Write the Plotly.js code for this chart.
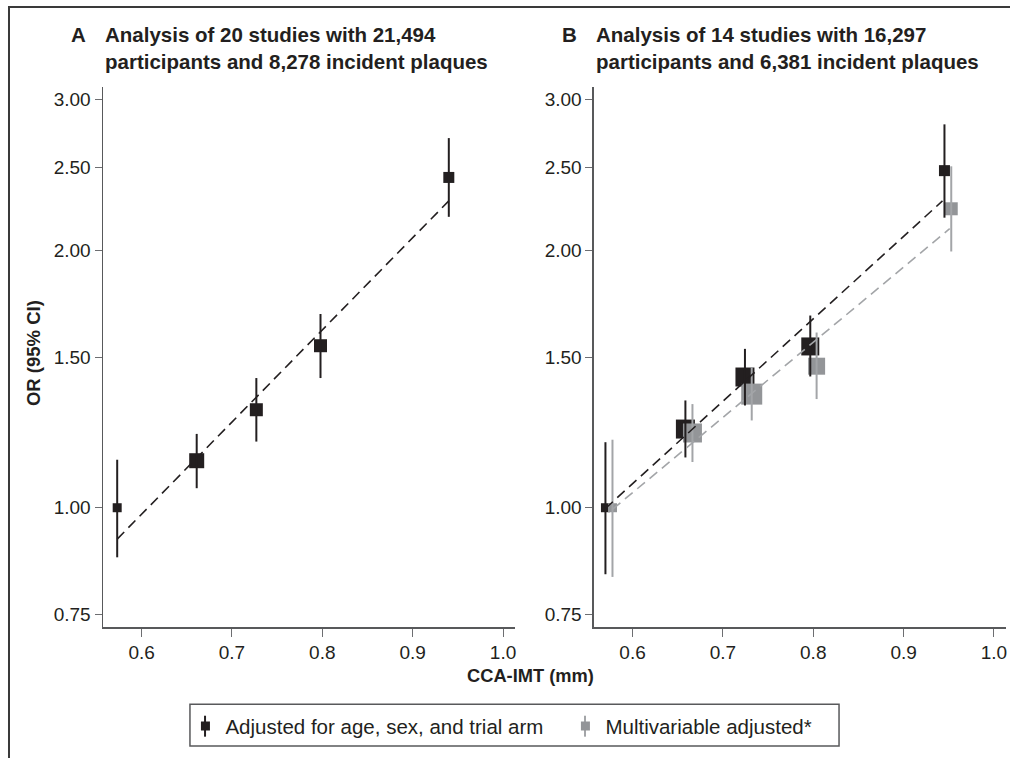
<!DOCTYPE html>
<html><head><meta charset="utf-8">
<script src="https://cdn.plot.ly/plotly-3.0.1.min.js"></script>
<style>html,body{margin:0;padding:0;background:#fff}#chart{width:1010px;height:758px}</style>
</head><body><div id="chart"></div>
<script>
// ---- data ----
const tickValsY = [0.75, 1, 1.5, 2, 2.5, 3];
const tickTextY = ['0.75', '1.00', '1.50', '2.00', '2.50', '3.00'];
const tickValsX = [0.6, 0.7, 0.8, 0.9, 1.0];
const tickTextX = ['0.6', '0.7', '0.8', '0.9', '1.0'];

// Panel A: adjusted for age, sex and trial arm
const imtA = [0.573, 0.661, 0.727, 0.798, 0.940];
const orA  = [1.00, 1.135, 1.302, 1.547, 2.434];
const loA  = [0.875, 1.054, 1.195, 1.418, 2.189];
const hiA  = [1.138, 1.220, 1.418, 1.685, 2.706];
const fitImtA = [0.573, 0.940];
const fitOrA  = [0.919, 2.285];

// Panel B: adjusted for age, sex and trial arm
const imtB1 = [0.570, 0.6585, 0.7244, 0.7967, 0.9452];
const orB1  = [1.00, 1.236, 1.422, 1.544, 2.479];
const loB1  = [0.836, 1.145, 1.317, 1.424, 2.184];
const hiB1  = [1.193, 1.335, 1.534, 1.678, 2.808];
const fitImtB1 = [0.570, 0.943];
const fitOrB1  = [0.998, 2.285];

// Panel B: multivariable adjusted
const imtB2 = [0.5778, 0.6663, 0.7319, 0.8037, 0.9527];
const orB2  = [1.00, 1.223, 1.358, 1.464, 2.237];
const loB2  = [0.830, 1.131, 1.265, 1.340, 1.994];
const hiB2  = [1.201, 1.322, 1.460, 1.603, 2.508];
const fitImtB2 = [0.578, 0.951];
const fitOrB2  = [0.996, 2.120];

const legendNames = ['Adjusted for age, sex, and trial arm', 'Multivariable adjusted*'];
const titleA = ['A', 'Analysis of 20 studies with 21,494', 'participants and 8,278 incident plaques'];
const titleB = ['B', 'Analysis of 14 studies with 16,297', 'participants and 6,381 incident plaques'];

// ---- styles ----
const sizeA  = [9, 15, 13, 13, 11];
const sizeB1 = [9, 19, 19, 18, 11];
const sizeB2 = [9, 19, 21, 17, 13];
const BLACK = '#231f20';
const GRAY = '#939598';
const GRAYLINE = '#a3a5a8';
const FONT = 'Liberation Sans, Arial, Helvetica, sans-serif';

function fit(x, y, color, xa, ya) {
  return {x: x, y: y, xaxis: xa, yaxis: ya, mode: 'lines', showlegend: false, hoverinfo: 'skip',
    line: {color: color, width: 1.6, dash: '10px,6px'}};
}
function pts(x, y, size, color, xa, ya) {
  return {x: x, y: y, xaxis: xa, yaxis: ya, mode: 'markers', showlegend: false,
    marker: {symbol: 'square', size: size, color: color, opacity: 1, line: {width: 0}}};
}
function cis(x, y, lo, hi, color, xa, ya) {
  return {x: x, y: y, xaxis: xa, yaxis: ya, mode: 'markers', showlegend: false, hoverinfo: 'skip',
    marker: {size: 1, opacity: 0},
    error_y: {type: 'data', symmetric: false,
      array: hi.map((h, i) => h - y[i]),
      arrayminus: lo.map((l, i) => y[i] - l),
      color: color, thickness: 2, width: 0}};
}

const traces = [
  pts(imtA, orA, sizeA, BLACK, 'x', 'y'),
  cis(imtA, orA, loA, hiA, BLACK, 'x', 'y'),
  fit(fitImtA, fitOrA, BLACK, 'x', 'y'),
  pts(imtB1, orB1, sizeB1, BLACK, 'x2', 'y2'),
  pts(imtB2, orB2, sizeB2, GRAY, 'x2', 'y2'),
  cis(imtB1, orB1, loB1, hiB1, BLACK, 'x2', 'y2'),
  cis(imtB2, orB2, loB2, hiB2, GRAYLINE, 'x2', 'y2'),
  fit(fitImtB1, fitOrB1, BLACK, 'x2', 'y2'),
  fit(fitImtB2, fitOrB2, GRAYLINE, 'x2', 'y2'),
  {x: [null], y: [null], mode: 'markers', name: legendNames[0], showlegend: true, legend: 'legend',
   marker: {symbol: 'square', size: 9, color: BLACK, opacity: 1}},
  {x: [null], y: [null], mode: 'markers', name: legendNames[1], showlegend: true, legend: 'legend2',
   marker: {symbol: 'square', size: 9, color: GRAY, opacity: 1}}
];

const xCommon = {range: [0.5573, 1.0133], tickvals: tickValsX, ticktext: tickTextX,
  ticks: 'outside', ticklen: 8, tickwidth: 1, tickcolor: '#6d6e71',
  showline: true, linecolor: '#58595b', linewidth: 1.5, showgrid: false, zeroline: false,
  tickfont: {family: FONT, size: 19, color: BLACK}, fixedrange: true};
const yCommon = {type: 'log', range: [-0.1395, 0.4921], tickvals: tickValsY, ticktext: tickTextY,
  ticks: 'outside', ticklen: 7, tickwidth: 1, tickcolor: '#6d6e71',
  showline: true, linecolor: '#58595b', linewidth: 1.5, showgrid: false, zeroline: false,
  tickfont: {family: FONT, size: 19, color: BLACK}, fixedrange: true};

function ann(text, x, y, opts) {
  return Object.assign({text: text, x: x, y: y, xref: 'paper', yref: 'paper', showarrow: false,
    font: {family: FONT, size: 20.5, color: BLACK, weight: 'bold'}}, opts || {});
}
const legendCommon = {orientation: 'h', xanchor: 'left', y: -0.1468, yanchor: 'top',
  borderwidth: 0, bgcolor: 'rgba(0,0,0,0)',
  font: {family: FONT, size: 20.5, color: BLACK}};

const layout = {
  width: 1010, height: 758,
  margin: {l: 103, r: 4, t: 87, b: 131},
  paper_bgcolor: '#ffffff', plot_bgcolor: '#ffffff',
  showlegend: true,
  xaxis: Object.assign({domain: [0, 0.4563], anchor: 'y'}, xCommon),
  yaxis: Object.assign({anchor: 'x'}, yCommon),
  xaxis2: Object.assign({domain: [0.5437, 1], anchor: 'y2'}, xCommon),
  yaxis2: Object.assign({anchor: 'x2'}, yCommon),
  legend: Object.assign({x: 0.0913}, legendCommon),
  legend2: Object.assign({x: 0.5121}, legendCommon),
  annotations: [
    ann(titleA[0], -0.0274, 1.0963, {xanchor: 'center', yanchor: 'middle'}),
    ann(titleA[1] + '<br>' + titleA[2], 0, 1.0731, {xanchor: 'left', yanchor: 'middle', align: 'left'}),
    ann(titleB[0], 0.5161, 1.0963, {xanchor: 'center', yanchor: 'middle'}),
    ann(titleB[1] + '<br>' + titleB[2], 0.5437, 1.0731, {xanchor: 'left', yanchor: 'middle', align: 'left'}),
    ann('OR (95% CI)', -0.0775, 0.5074, {xanchor: 'center', yanchor: 'middle', textangle: -90,
      font: {family: FONT, size: 18.5, color: BLACK, weight: 'bold'}}),
    ann('CCA-IMT (mm)', 0.4729, -0.0907, {xanchor: 'center', yanchor: 'middle',
      font: {family: FONT, size: 18.3, color: BLACK, weight: 'bold'}})
  ],
  shapes: [
    // outer frame
    {type: 'rect', xref: 'paper', yref: 'paper', x0: -0.1041, x1: 1.05, y0: 1.1481, y1: -0.3,
     line: {color: '#3a3a3a', width: 2}, fillcolor: 'rgba(0,0,0,0)'},
    // legend box
    {type: 'rect', xref: 'paper', yref: 'paper', x0: 0.0963, x1: 0.8151, y0: -0.1431, y1: -0.2204,
     line: {color: '#58595b', width: 1.5}, fillcolor: 'rgba(0,0,0,0)'},
    // legend key whiskers
    {type: 'line', xref: 'paper', yref: 'paper', x0: 0.1130, x1: 0.1130, y0: -0.1643, y1: -0.2031,
     line: {color: BLACK, width: 2}},
    {type: 'line', xref: 'paper', yref: 'paper', x0: 0.5338, x1: 0.5338, y0: -0.1643, y1: -0.2031,
     line: {color: GRAYLINE, width: 2}}
  ]
};

Plotly.newPlot('chart', traces, layout, {displayModeBar: false, staticPlot: true});
</script>
</body></html>
